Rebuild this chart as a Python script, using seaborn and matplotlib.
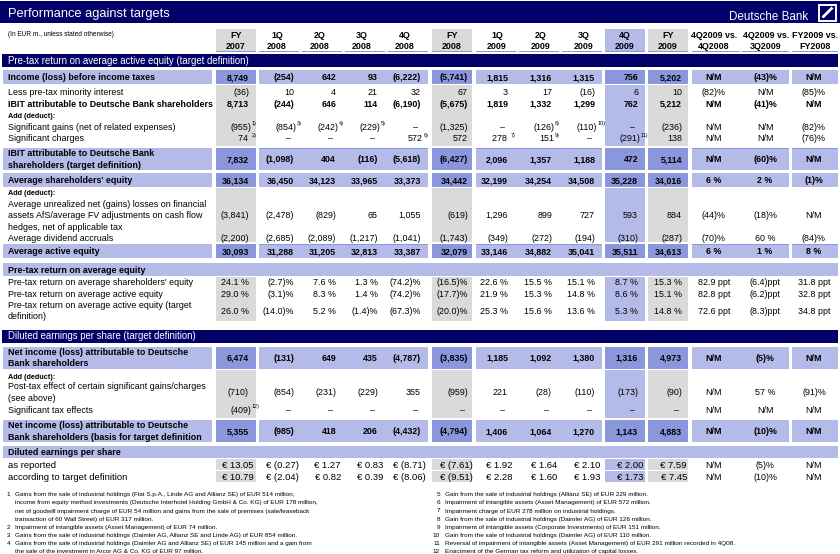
"""
Deutsche Bank - Performance against targets table, redrawn with matplotlib/seaborn.
"""

import matplotlib
matplotlib.use('Agg')
import matplotlib.pyplot as plt
from matplotlib.patches import Rectangle
import seaborn as sns

sns.set_theme(style="white")
plt.rcParams['font.family'] = ['Liberation Sans', 'DejaVu Sans']

NAVY = '#000068'
LIGHT = '#b4bbe9'
MID = '#8b97dd'
GREY = '#dadada'

# ---------------- data ----------------
col_top = ["FY", "1Q", "2Q", "3Q", "4Q", "FY", "1Q", "2Q", "3Q", "4Q", "FY",
           "4Q2009 vs.", "4Q2009 vs.", "FY2009 vs."]
col_bottom = ["2007", "2008", "2008", "2008", "2008", "2008", "2009", "2009", "2009",
              "2009", "2009", "4Q2008", "3Q2009", "FY2008"]

income_before_taxes = ["8,749", "(254)", "642", "93", "(6,222)", "(5,741)", "1,815", "1,316",
                       "1,315", "756", "5,202", "N/M", "(43)%", "N/M"]
minority_interest = ["(36)", "10", "4", "21", "32", "67", "3", "17", "(16)", "6", "10",
                     "(82)%", "N/M", "(85)%"]
ibit = ["8,713", "(244)", "646", "114", "(6,190)", "(5,675)", "1,819", "1,332", "1,299",
        "762", "5,212", "N/M", "(41)%", "N/M"]
significant_gains = ["(955)^1)", "(854)^3)", "(242)^4)", "(229)^5)", "\u2013", "(1,325)",
                     "\u2013", "(126)^8)", "(110)^10)", "\u2013", "(236)", "N/M", "N/M", "(82)%"]
significant_charges = ["74 ^2)", "\u2013", "\u2013", "\u2013", "572^6)", "572", "278 ^7)",
                       "151^9)", "\u2013", "(291)^11)", "138", "N/M", "N/M", "(76)%"]
ibit_target = ["7,832", "(1,098)", "404", "(116)", "(5,618)", "(6,427)", "2,096", "1,357",
               "1,188", "472", "5,114", "N/M", "(60)%", "N/M"]
avg_sh_equity = ["36,134", "36,450", "34,123", "33,965", "33,373", "34,442", "32,199",
                 "34,254", "34,508", "35,228", "34,016", "6 %", "2 %", "(1)%"]
unrealized_gains = ["(3,841)", "(2,478)", "(829)", "65", "1,055", "(619)", "1,296", "899",
                    "727", "593", "884", "(44)%", "(18)%", "N/M"]
dividend_accruals = ["(2,200)", "(2,685)", "(2,089)", "(1,217)", "(1,041)", "(1,743)",
                     "(349)", "(272)", "(194)", "(310)", "(287)", "(70)%", "60 %", "(84)%"]
avg_active_equity = ["30,093", "31,288", "31,205", "32,813", "33,387", "32,079", "33,146",
                     "34,882", "35,041", "35,511", "34,613", "6 %", "1 %", "8 %"]
roe_sh_equity = ["24.1 %", "(2.7)%", "7.6 %", "1.3 %", "(74.2)%", "(16.5)%", "22.6 %",
                 "15.5 %", "15.1 %", "8.7 %", "15.3 %", "82.9 ppt", "(6.4)ppt", "31.8 ppt"]
roe_active_equity = ["29.0 %", "(3.1)%", "8.3 %", "1.4 %", "(74.2)%", "(17.7)%", "21.9 %",
                     "15.3 %", "14.8 %", "8.6 %", "15.1 %", "82.8 ppt", "(6.2)ppt", "32.8 ppt"]
roe_target = ["26.0 %", "(14.0)%", "5.2 %", "(1.4)%", "(67.3)%", "(20.0)%", "25.3 %",
              "15.6 %", "13.6 %", "5.3 %", "14.8 %", "72.6 ppt", "(8.3)ppt", "34.8 ppt"]
net_income = ["6,474", "(131)", "649", "435", "(4,787)", "(3,835)", "1,185", "1,092",
              "1,380", "1,316", "4,973", "N/M", "(5)%", "N/M"]
post_tax_effect = ["(710)", "(854)", "(231)", "(229)", "355", "(959)", "221", "(28)",
                   "(110)", "(173)", "(90)", "N/M", "57 %", "(91)%"]
tax_effects = ["(409)^12)", "\u2013", "\u2013", "\u2013", "\u2013", "\u2013", "\u2013",
               "\u2013", "\u2013", "\u2013", "\u2013", "N/M", "N/M", "N/M"]
net_income_target = ["5,355", "(985)", "418", "206", "(4,432)", "(4,794)", "1,406", "1,064",
                     "1,270", "1,143", "4,883", "N/M", "(10)%", "N/M"]
eps_reported = ["\u20ac 13.05", "\u20ac (0.27)", "\u20ac 1.27", "\u20ac 0.83", "\u20ac (8.71)",
                "\u20ac (7.61)", "\u20ac 1.92", "\u20ac 1.64", "\u20ac 2.10", "\u20ac 2.00",
                "\u20ac 7.59", "N/M", "(5)%", "N/M"]
eps_target = ["\u20ac 10.79", "\u20ac (2.04)", "\u20ac 0.82", "\u20ac 0.39", "\u20ac (8.06)",
              "\u20ac (9.51)", "\u20ac 2.28", "\u20ac 1.60", "\u20ac 1.93", "\u20ac 1.73",
              "\u20ac 7.45", "N/M", "(10)%", "N/M"]

footnotes_left = [
    ("1", ["Gains from the sale of industrial holdings (Fiat S.p.A., Linde AG and Allianz SE) of EUR 514 million,",
           "income from equity method investments (Deutsche Interhotel Holding GmbH & Co. KG) of EUR 178 million,",
           "net of goodwill impairment charge of EUR 54 million and gains from the sale of premises (sale/leaseback",
           "transaction of 60 Wall Street) of EUR 317 million."]),
    ("2", ["Impairment of intangible assets (Asset Management) of EUR 74 million."]),
    ("3", ["Gains from the sale of industrial holdings (Daimler AG, Allianz SE and Linde AG) of EUR 854 million."]),
    ("4", ["Gains from the sale of industrial holdings (Daimler AG and Allianz SE) of EUR 145 million and a gain from",
           "the sale of the investment in Arcor AG & Co. KG of EUR 97 million."]),
]
footnotes_right = [
    ("5", ["Gain from the sale of industrial holdings (Allianz SE) of EUR 229 million."]),
    ("6", ["Impairment of intangible assets (Asset Management) of EUR 572 million."]),
    ("7", ["Impairment charge of EUR 278 million on industrial holdings."]),
    ("8", ["Gain from the sale of industrial holdings (Daimler AG) of EUR 126 million."]),
    ("9", ["Impairment of intangible assets (Corporate Investments) of EUR 151 million."]),
    ("10", ["Gain from the sale of industrial holdings (Daimler AG) of EUR 110 million."]),
    ("11", ["Reversal of impairment of intangible assets (Asset Management) of EUR 291 million recorded in 4Q08."]),
    ("12", ["Enactment of the German tax reform and utilization of capital losses."]),
]

# ---------------- layout ----------------
right_edges = [249, 294, 336, 378, 421, 468, 508, 552, 595, 638, 682]
vs_centers = [714, 765, 814]
head_centers = [236, 277, 320, 362, 405, 452, 497, 541, 584, 625, 668, 714, 766, 815]
head_lines = [(216, 256), (259, 299), (302, 342), (345, 385), (388, 428), (432, 472),
              (476, 516), (519, 559), (562, 602), (605, 645), (648, 688),
              (692, 740), (742, 789), (792, 838)]
# band segments: (x0, x1, highlighted)
segments = [(3, 212, False), (216, 256, True), (259, 428, False), (432, 472, True),
            (476, 602, False), (605, 645, True), (648, 688, True), (692, 789, False),
            (792, 838, False)]
hl_cols = [(216, 256, GREY), (432, 472, GREY), (605, 645, LIGHT), (648, 688, GREY)]

fig = plt.figure(figsize=(8.4, 5.54), dpi=100)
ax = fig.add_axes([0, 0, 1, 1])
ax.set_xlim(0, 840)
ax.set_ylim(554, 0)
ax.axis('off')


def rect(x0, y0, x1, y1, color, z=1):
    ax.add_patch(Rectangle((x0, y0), x1 - x0, y1 - y0, facecolor=color,
                           edgecolor='none', zorder=z))


def txt(x, y, s, size=6.4, weight='normal', ha='left', color='black'):
    # y is the visual centre of the capitals; place text on its baseline
    base = y + 0.36 * size * 100 / 72
    ax.text(x, base, s, fontsize=size, fontweight=weight, ha=ha, va='baseline',
            color=color, zorder=5)


# title bar
rect(0, 0.5, 840, 23, NAVY, 3)
txt(8, 12.5, "Performance against targets", size=9.3, color='white')
txt(808, 15.5, "Deutsche Bank", size=8.4, ha='right', color='white')
ax.add_patch(Rectangle((819, 4.5), 17, 16, facecolor='none', edgecolor='white', lw=1.4, zorder=4))
ax.plot([822.5, 832.5], [17.5, 7.5], color='white', lw=2.0, zorder=4, solid_capstyle='butt')

# header
txt(8, 34, "(In EUR m., unless stated otherwise)", size=4.7)
for x0, x1, c in hl_cols:
    rect(x0, 29, x1, 51.5, c)
for (x0, x1) in head_lines:
    rect(x0, 50.5, x1, 52.3, MID, 2)
for i, xc in enumerate(head_centers):
    txt(xc, 34.5, col_top[i], weight='bold', ha='center')
    txt(xc, 46, col_bottom[i], weight='bold', ha='center')

# grey / light-blue highlighted column blocks
for y0, y1 in [(70, 257), (277, 321), (346, 442), (459, 470.2), (471, 482)]:
    for x0, x1, c in hl_cols:
        rect(x0, y0, x1, y1, c)

# result bands
bands = [(70, 83.5, False), (148, 169.5, True), (173, 186.5, False), (244, 257.5, True),
         (346.5, 368.5, False), (420, 442, False)]
for y0, y1, _ in bands:
    rect(0, y0 - 1.8, 840, y1 + 1.8, 'white', 2)
for y0, y1, topline in bands:
    for x0, x1, hl in segments:
        rect(x0, y0, x1, y1, MID if hl else LIGHT, 3)
        if topline and not hl and x0 > 3:
            rect(x0, y0, x1, y0 + 1.3, MID, 3)

# section bars
rect(2, 54, 838, 67, NAVY, 3)
txt(8, 60.5, "Pre-tax return on average active equity (target definition)", size=6.9, color='white')
rect(3, 263, 838, 275.5, LIGHT, 3)
txt(8, 269.5, "Pre-tax return on average equity", weight='bold')
rect(2, 330, 838, 342.5, NAVY, 3)
txt(8, 336, "Diluted earnings per share (target definition)", size=6.9, color='white')
rect(3, 446, 838, 457.5, LIGHT, 3)
txt(8, 452, "Diluted earnings per share", weight='bold')

# table rows: (label lines, values, y centre, bold)
rows = [
    (["Income (loss) before income taxes"], income_before_taxes, 77, True),
    (["Less pre-tax minority interest"], minority_interest, 92, False),
    (["IBIT attributable to Deutsche Bank shareholders"], ibit, 103.5, True),
    (["Significant gains (net of related expenses)"], significant_gains, 126.5, False),
    (["Significant charges"], significant_charges, 138, False),
    (["IBIT attributable to Deutsche Bank", "shareholders (target definition)"], ibit_target, 159, True),
    (["Average shareholders' equity"], avg_sh_equity, 180, True),
    (["Average unrealized net (gains) losses on financial",
      "assets AfS/average FV adjustments on cash flow",
      "hedges, net of applicable tax"], unrealized_gains, 215, False),
    (["Average dividend accruals"], dividend_accruals, 238, False),
    (["Average active equity"], avg_active_equity, 251, True),
    (["Pre-tax return on average shareholders' equity"], roe_sh_equity, 282, False),
    (["Pre-tax return on average active equity"], roe_active_equity, 293.5, False),
    (["Pre-tax return on average active equity (target", "definition)"], roe_target, 310.5, False),
    (["Net income (loss) attributable to Deutsche", "Bank shareholders"], net_income, 357.5, True),
    (["Post-tax effect of certain significant gains/charges", "(see above)"], post_tax_effect, 392, False),
    (["Significant tax effects"], tax_effects, 409.5, False),
    (["Net income (loss) attributable to Deutsche",
      "Bank shareholders (basis for target definition"], net_income_target, 431, True),
]
for y in [115.5, 192.5, 376]:
    txt(8, y, "Add (deduct):", size=5.2, weight='bold')

LINE = 11.5
for label, vals, y, bold in rows:
    w = 'bold' if bold else 'normal'
    n = len(label)
    for k, line in enumerate(label):
        txt(8, y + (k - (n - 1) / 2) * LINE, line, weight=w)
    for i, s in enumerate(vals):
        if i < len(right_edges):
            x = right_edges[i]
            if '^' in s:
                main, sup = s.split('^')
                txt(x + 2, y, main, weight=w, ha='right')
                txt(x + 2.5, y - 3, sup, size=3.9)
            elif s == "\u2013":
                txt(x - 3, y, s, weight=w, ha='right')
            else:
                txt(x, y, s, weight=w, ha='right')
        else:
            txt(vs_centers[i - len(right_edges)], y, s, weight=w, ha='center')

# earnings per share rows
for label, vals, y in [("as reported", eps_reported, 464.5),
                       ("according to target definition", eps_target, 476.5)]:
    txt(8, y, label, size=6.8)
    for i, s in enumerate(vals):
        if i < len(right_edges):
            txt(right_edges[i] + 5, y, s, size=6.8, ha='right')
        else:
            txt(vs_centers[i - len(right_edges)], y, s, size=6.4, ha='center')

# footnotes
FN = 8.1
y = 494
for num, lines in footnotes_left:
    txt(10, y, num, size=4.6, ha='right')
    for line in lines:
        txt(15, y, line, size=4.6)
        y += FN
y = 494
for num, lines in footnotes_right:
    txt(440, y, num, size=4.6, ha='right')
    for line in lines:
        txt(445, y, line, size=4.6)
        y += FN

plt.savefig("out.png", dpi=100)
plt.close()
